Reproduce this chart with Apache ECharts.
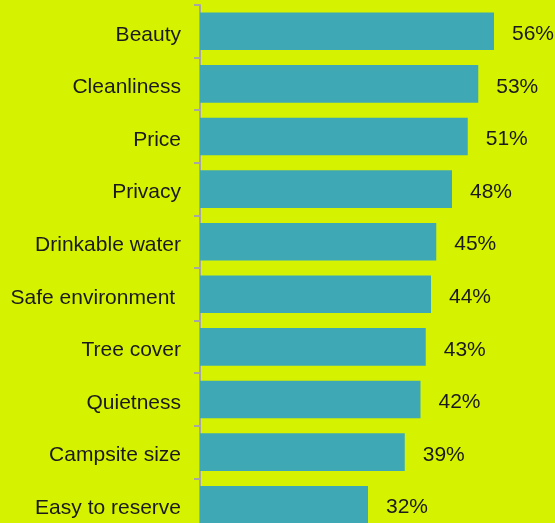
<!DOCTYPE html>
<html>
<head>
<meta charset="utf-8">
<script src="https://cdn.jsdelivr.net/npm/echarts@6/dist/echarts.min.js"></script>
<style>
  html, body { margin: 0; padding: 0; background: #d5f200; }
  #chart { width: 555px; height: 523px; }
</style>
</head>
<body>
<div id="chart"></div>
<script>
// reasons for choosing a campsite
var categories = ['Beauty', 'Cleanliness', 'Price', 'Privacy', 'Drinkable water',
    'Safe environment ', 'Tree cover', 'Quietness', 'Campsite size', 'Easy to reserve'];
var shares = [56, 53, 51, 48, 45, 44, 43, 42, 39, 32];

var chart = echarts.init(document.getElementById('chart'));

var option = {
    backgroundColor: '#d5f200',
    animation: false,
    grid: { left: 200, top: 5, width: 315, height: 526, outerBoundsMode: 'none', containLabel: false },
    xAxis: {
        type: 'value',
        min: 0,
        max: 60,
        show: false
    },
    yAxis: {
        type: 'category',
        inverse: true,
        data: categories,
        axisLine: { show: true, lineStyle: { color: '#a6a6a6', width: 2 } },
        axisTick: { show: true, length: 6, lineStyle: { color: '#a6a6a6', width: 2 } },
        axisLabel: {
            margin: 19,
            formatter: function (v) { return '{t|' + v + '}'; },
            rich: {
                t: {
                    color: '#1a1a1a',
                    fontSize: 21,
                    padding: [7, 0, 0, 0],
                    fontFamily: 'Liberation Sans, Arial, sans-serif'
                }
            }
        }
    },
    series: [{
        type: 'bar',
        data: shares,
        barCategoryGap: '28.5%',
        itemStyle: { color: '#3ea9b5' },
        label: {
            show: true,
            position: 'right',
            distance: 18,
            offset: [0, 3],
            formatter: '{c}%',
            color: '#1a1a1a',
            fontSize: 21,
            fontFamily: 'Liberation Sans, Arial, sans-serif'
        }
    }]
};

chart.setOption(option);
</script>
</body>
</html>
